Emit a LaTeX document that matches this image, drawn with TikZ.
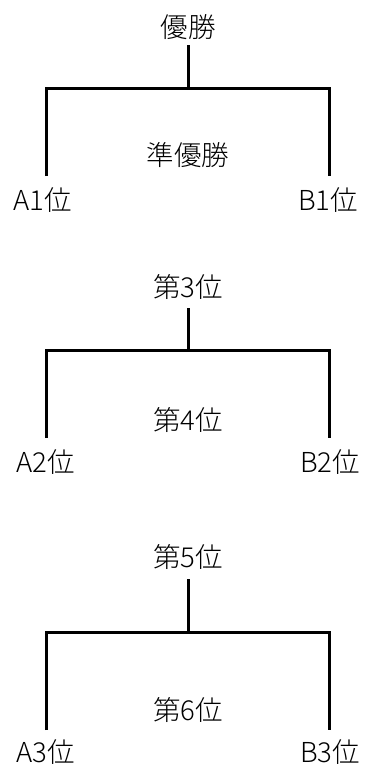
\documentclass[tikz,border=0pt]{standalone}
\usepackage{fontspec}
\setmainfont{Noto Sans CJK JP}[UprightFont={* Light}]
\begin{document}
\begin{tikzpicture}[x=1pt,y=-1pt,
  lbl/.style={font=\fontsize{27.5}{27.5}\selectfont, inner sep=0pt, anchor=base, text height=0.8em, text depth=0.05em},
  tline/.style={line width=3pt, line cap=butt, line join=miter}]
\useasboundingbox (0,0) rectangle (368,764);
% block 1
\node[lbl] (w1) at (188,37) {優勝};
\node[lbl] (m1) at (188,165) {準優勝};
\node[lbl] (a1) at (43,210) {A1位};
\node[lbl] (b1) at (328,210) {B1位};
\coordinate (t1) at (188,45);
\coordinate (j1) at (188,88);
\coordinate (la1) at (46,176);
\coordinate (rb1) at (329,176);
\draw[tline] (t1) -- (j1);
\draw[tline] (la1) |- (j1) -| (rb1);
% block 2
\node[lbl] (w2) at (188,297) {第3位};
\node[lbl] (m2) at (188,430) {第4位};
\node[lbl] (a2) at (46,472) {A2位};
\node[lbl] (b2) at (330,472) {B2位};
\coordinate (t2) at (188,308);
\coordinate (j2) at (188,350);
\coordinate (la2) at (46,438);
\coordinate (rb2) at (329,438);
\draw[tline] (t2) -- (j2);
\draw[tline] (la2) |- (j2) -| (rb2);
% block 3
\node[lbl] (w3) at (188,567) {第5位};
\node[lbl] (m3) at (188,720) {第6位};
\node[lbl] (a3) at (46,762) {A3位};
\node[lbl] (b3) at (330,762) {B3位};
\coordinate (t3) at (188,579);
\coordinate (j3) at (188,632);
\coordinate (la3) at (46,730);
\coordinate (rb3) at (329,730);
\draw[tline] (t3) -- (j3);
\draw[tline] (la3) |- (j3) -| (rb3);
\end{tikzpicture}
\end{document}
